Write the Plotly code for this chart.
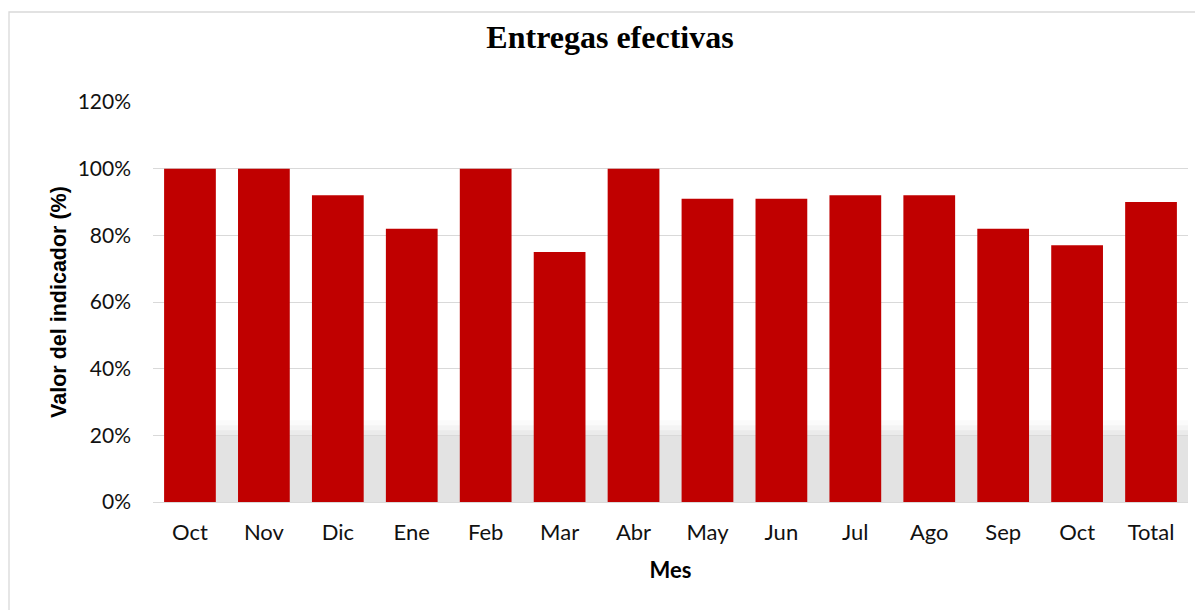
import plotly.graph_objects as go

categories = ["Oct", "Nov", "Dic", "Ene", "Feb", "Mar", "Abr", "May", "Jun", "Jul", "Ago", "Sep", "Oct ", "Total"]
tick_labels = ["Oct", "Nov", "Dic", "Ene", "Feb", "Mar", "Abr", "May", "Jun", "Jul", "Ago", "Sep", "Oct", "Total"]
values = [1.00, 1.00, 0.92, 0.82, 1.00, 0.75, 1.00, 0.91, 0.91, 0.92, 0.92, 0.82, 0.77, 0.90]
y_ticks = [0, 0.2, 0.4, 0.6, 0.8, 1.0, 1.2]

OFF = 8  # page body margin
W, H = 1195, 602
L, R, T, B = 153 - OFF, 15, 102 - OFF, 108
pw = W - L - R
ph = H - T - B

def px_x(p):
    return (p - OFF - L) / pw

def px_y(p):
    return (H - B - (p - OFF)) / ph

fig = go.Figure()
fig.add_trace(go.Bar(
    x=categories, y=values,
    marker=dict(color="#C00000", line=dict(width=0)),
    width=0.7,
    hoverinfo="skip",
))

shapes = []
# subtle grey shadow band behind bars (reflection artefact)
for y0, y1, a in [(0.0, 0.2, 0.33), (0.2, 0.215, 0.24), (0.215, 0.23, 0.13), (0.23, 0.245, 0.05)]:
    shapes.append(dict(type="rect", xref="x", yref="y", x0=0.35, x1=13.5, y0=y0, y1=y1,
                       fillcolor=f"rgba(170,170,170,{a})", line=dict(width=0), layer="below"))
# chart border
shapes.append(dict(type="rect", xref="paper", yref="paper",
                   x0=px_x(9), x1=px_x(1230), y0=px_y(640), y1=px_y(12),
                   line=dict(color="#d9d9d9", width=1.3), fillcolor="rgba(0,0,0,0)"))

fig.update_layout(
    width=W, height=H,
    margin=dict(l=L, r=R, t=T, b=B),
    paper_bgcolor="white", plot_bgcolor="white",
    showlegend=False,
    bargap=0.3,
    title=dict(text="<b>Entregas efectivas</b>", x=(610 - OFF) / W, xref="container", xanchor="center",
               y=1 - (37 - OFF) / H, yanchor="middle",
               font=dict(family="Liberation Serif", size=32, color="black")),
    font=dict(family="Lato", size=20, color="black"),
    shapes=shapes,
    xaxis=dict(
        tickmode="array", tickvals=categories, ticktext=tick_labels,
        showgrid=False, showline=False, ticks="",
        ticklabelstandoff=15,
        tickfont=dict(family="Lato", size=22, color="#111"),
        title=dict(text="<b>Mes</b>", font=dict(family="Lato", size=22, color="black"), standoff=18),
    ),
    yaxis=dict(
        range=[0, 1.2], tickvals=y_ticks, tickformat=".0%",
        showgrid=True, gridcolor="#d9d9d9", gridwidth=1.3,
        zeroline=True, zerolinecolor="#d9d9d9", zerolinewidth=1.3,
        showline=False, ticks="", ticklabelstandoff=21,
        tickfont=dict(family="Lato", size=21, color="#111"),
        title=dict(text="<b>Valor del indicador (%)</b>", font=dict(family="Liberation Sans", size=21.5, color="black"), standoff=5),
    ),
)

fig.write_html("out.html")
